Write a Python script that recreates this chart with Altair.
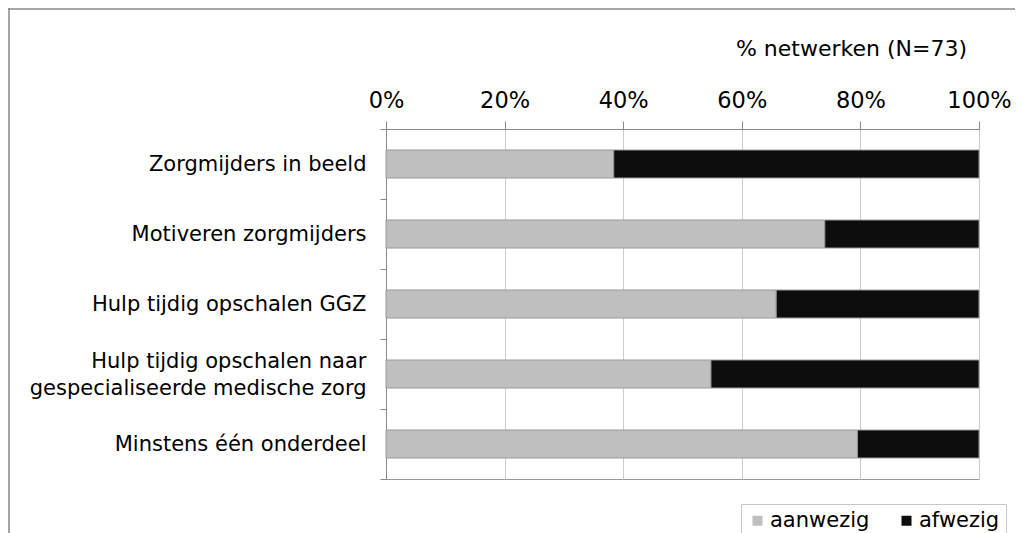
import altair as alt
import pandas as pd

categories = [
    "Zorgmijders in beeld",
    "Motiveren zorgmijders",
    "Hulp tijdig opschalen GGZ",
    "Hulp tijdig opschalen naar|gespecialiseerde medische zorg",
    "Minstens één onderdeel",
]
aanwezig = [38.4, 74.0, 65.8, 54.8, 79.5]
afwezig = [61.6, 26.0, 34.2, 45.2, 20.5]
series = ["aanwezig", "afwezig"]
colors = ["#bfbfbf", "#0d0d0d"]
x_ticks = [0, 20, 40, 60, 80, 100]

rows = []
for c, a, b in zip(categories, aanwezig, afwezig):
    rows.append({"cat": c, "serie": "aanwezig", "val": a, "ord": 0})
    rows.append({"cat": c, "serie": "afwezig", "val": b, "ord": 1})
df = pd.DataFrame(rows)

bars = alt.Chart(df).mark_bar(stroke="#9a9a9a", strokeWidth=1, height=28).encode(
    y=alt.Y("cat:N", sort=categories,
            scale=alt.Scale(paddingInner=0, paddingOuter=0),
            axis=alt.Axis(title=None, labelFontSize=21, labelPadding=14, tickSize=6,
                          tickBand="extent",
                          domainColor="#888888", tickColor="#888888",
                          labelLimit=0, grid=False, labelLineHeight=27,
                          labelColor="#000000",
                          labelOffset={"condition": {"test": "indexof(datum.label, '|') >= 0",
                                                     "value": -13},
                                       "value": 0},
                          labelExpr="split(datum.label, '|')")),
    x=alt.X("val:Q", stack="zero",
            scale=alt.Scale(domain=[0, 100], nice=False),
            axis=alt.Axis(orient="top", values=x_ticks, labelExpr="datum.value + '%'",
                          grid=True, gridColor="#cccccc", domainColor="#888888",
                          tickColor="#888888", tickSize=8, labelFontSize=22.5,
                          labelPadding=9, labelColor="#000000", labelFlush=False,
                          title="% netwerken (N=73)", titleFontSize=22,
                          titleFontWeight="normal", titleColor="#000000",
                          titleX=465, titleY=-81, titleAlign="center",
                          titleBaseline="middle")),
    color=alt.Color("serie:N", sort=series,
                    scale=alt.Scale(domain=series, range=colors),
                    legend=alt.Legend(title=None, orient="none", legendX=355, legendY=375,
                                      direction="horizontal", symbolType="square",
                                      symbolSize=100, symbolStrokeWidth=0,
                                      labelFontSize=21, labelColor="#000000",
                                      strokeColor="#c8c8c8", padding=6,
                                      columnPadding=26, labelOffset=2)),
    order=alt.Order("ord:Q"),
)

frame_left = alt.Chart(alt.Data(values=[{}])).mark_rule(color="#888888", strokeWidth=1.5).encode(
    x=alt.value(-377), y=alt.value(-121), y2=alt.value(420)
)
frame_top = alt.Chart(alt.Data(values=[{}])).mark_rule(color="#888888", strokeWidth=1.5).encode(
    x=alt.value(-378), x2=alt.value(700), y=alt.value(-120)
)

chart = alt.layer(frame_left, frame_top, bars).properties(
    width=593, height=350,
    autosize=alt.AutoSizeParams(type="none"),
    padding={"left": 378, "top": 121, "right": 36, "bottom": 54},
).configure(font="DejaVu Sans").configure_view(stroke="#999999")

chart.save("out.html", embed_options={"renderer": "svg", "actions": False})
